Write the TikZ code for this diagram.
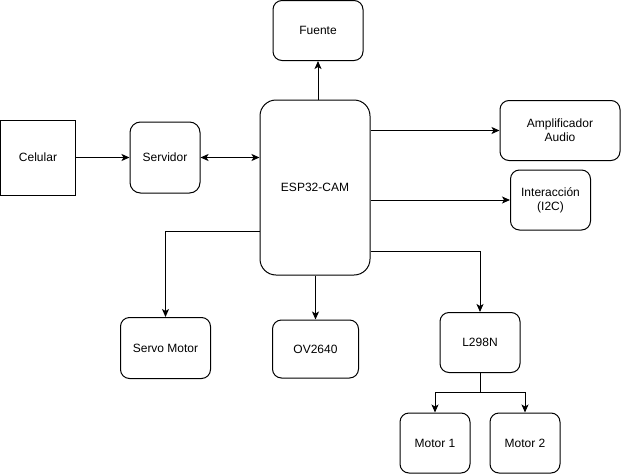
\documentclass[tikz,border=0pt]{standalone}
\usepackage{fontspec}
\setmainfont{Liberation Sans}
\usetikzlibrary{arrows.meta}
\begin{document}
\begin{tikzpicture}[x=1pt,y=-1pt,
  every node/.style={font=\fontsize{12}{14}\selectfont, align=center, inner sep=0pt},
  rbox/.style={draw=black, line width=1pt, rounded corners=9pt},
  sbox/.style={draw=black, line width=1pt},
  conn/.style={line width=1pt, -{Stealth[length=8pt,width=7pt,inset=2pt]}},
  conn2/.style={line width=1pt, {Stealth[length=8pt,width=7pt,inset=2pt]}-{Stealth[length=8pt,width=7pt,inset=2pt]}}]
\useasboundingbox (0,0) rectangle (621,474);
\node[sbox, minimum width=75pt, minimum height=75pt] (cel) at (38,157.5) {Celular};
\node[rbox, rounded corners=10.5pt, minimum width=70pt, minimum height=71pt] (serv) at (165,157.5) {Servidor};
\node[rbox, rounded corners=16pt, minimum width=110pt, minimum height=175pt] (esp) at (315,187.5) {ESP32-CAM};
\node[rbox, minimum width=90pt, minimum height=60pt] (fuente) at (318,30.5) {Fuente};
\node[rbox, minimum width=120pt, minimum height=60pt] (amp) at (560,130.5) {Amplificador\\Audio};
\node[rbox, minimum width=80pt, minimum height=60pt] (inter) at (550.5,200) {Interacción\\(I2C)};
\node[rbox, minimum width=90pt, minimum height=61pt] (servo) at (165.5,348) {Servo Motor};
\node[rbox, minimum width=86pt, minimum height=58pt] (ov) at (315.5,349) {OV2640};
\node[rbox, minimum width=80pt, minimum height=60pt] (l298) at (480,342.5) {L298N};
\node[rbox, minimum width=70pt, minimum height=60pt] (m1) at (435,443) {Motor 1};
\node[rbox, minimum width=70pt, minimum height=60pt] (m2) at (525,443) {Motor 2};

\draw[conn] (cel.east) -- (serv.west);
\draw[conn2] (serv.east) -- (serv.east -| esp.west);
\draw[conn] (fuente.south |- esp.north) -- (fuente.south);
\draw[conn] (amp.west -| esp.east) -- (amp.west);
\draw[conn] (inter.west -| esp.east) -- (inter.west);
\draw[conn] ([yshift=-43.5pt]esp.west) -| (servo.north);
\draw[conn] (ov.north |- esp.south) -- (ov.north);
\draw[conn] ([yshift=-63.5pt]esp.east) -| (l298.north);
\draw[line width=1pt] (l298.south) -- ++(0,19.5) coordinate (j);
\draw[conn] (j) -| (m1.north);
\draw[conn] (j) -| (m2.north);
\end{tikzpicture}
\end{document}
